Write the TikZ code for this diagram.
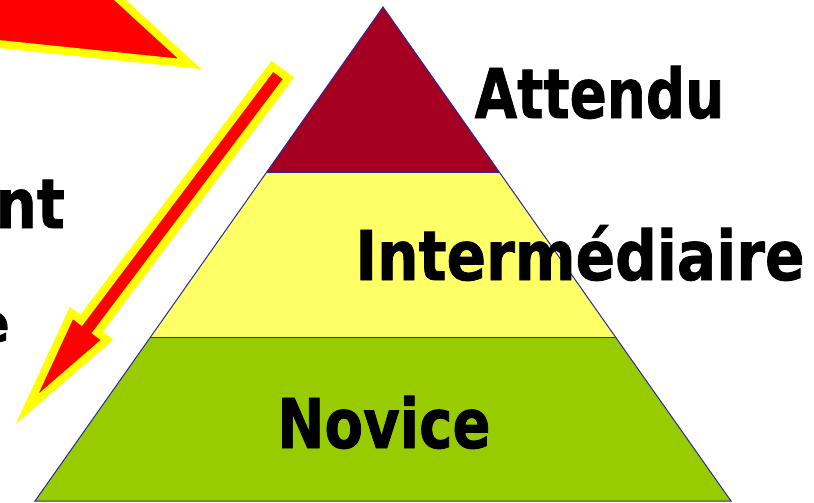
\documentclass[tikz,border=0pt]{standalone}
\usepackage{fontspec}
\setmainfont{DejaVu Sans}
\newfontfamily\labelfont[UprightFont={* Bold}, UprightFeatures={FakeBold=1.2}]{DejaVu Sans}
\definecolor{topband}{HTML}{A50021}
\definecolor{midband}{HTML}{FFFF66}
\definecolor{lowband}{HTML}{99CC00}
\definecolor{edgeblue}{RGB}{40,40,160}
\definecolor{arrowred}{HTML}{FF0000}
\definecolor{arrowrim}{HTML}{FFFF00}
\tikzset{
  band/.style={draw=edgeblue, line width=1pt, line join=miter},
  bigarrow/.style={fill=arrowred, draw=arrowrim, line width=8pt, line join=miter, miter limit=20},
  levellabel/.style={anchor=base, inner sep=0pt, font=\labelfont\fontsize{68.6}{80}\selectfont},
}
\begin{document}
\begin{tikzpicture}[x=1pt, y=-1pt]
\useasboundingbox (0,0) rectangle (814,503);
\clip (0,0) rectangle (814,503);

% pyramid: three stacked bands
\coordinate (apex) at (383,7);
\coordinate (bl) at (35,501);
\coordinate (br) at (731,501);
\coordinate (ml1) at (266.8,172);
\coordinate (mr1) at (499.2,172);
\coordinate (ml2) at (150.6,337);
\coordinate (mr2) at (615.4,337);
\fill[lowband] (ml2) -- (mr2) -- (br) -- (bl) -- cycle;
\fill[midband] (ml1) -- (mr1) -- (mr2) -- (ml2) -- cycle;
\fill[topband] (apex) -- (mr1) -- (ml1) -- cycle;
\draw[band] (apex) -- (br) -- (bl) -- cycle;
\draw[band] (ml1) -- (mr1);
\draw[band] (ml2) -- (mr2);

% arrowhead entering from the top left corner
\draw[bigarrow] (189.7,63.8) -- (-50,39) -- (-50,-50) -- (65.4,-50) -- cycle;

% diagonal arrow running down the left side of the pyramid
\draw[bigarrow] (288.4,78.3) -- (97.2,332.4) -- (107.0,339.8) -- (27,409)
  -- (71.4,313.0) -- (81.2,320.4) -- (272.4,66.3) -- cycle;

% level labels
\node[levellabel] (attendu) at (599.5,118) {\scalebox{0.8}[1]{Attendu}};
\node[levellabel] (inter) at (580,280) {\scalebox{0.85}[1]{Intermédiaire}};
\node[levellabel] (novice) at (384,448) {\scalebox{0.82}[1]{Novice}};

% text running in from the left edge
\node[levellabel, anchor=base east] (nt) at (65,228) {\scalebox{0.85}[1]{nt}};
\node[anchor=base east, inner sep=0pt, font=\labelfont\fontsize{54}{64}\selectfont] (ee) at (10,342) {e};
\end{tikzpicture}
\end{document}
